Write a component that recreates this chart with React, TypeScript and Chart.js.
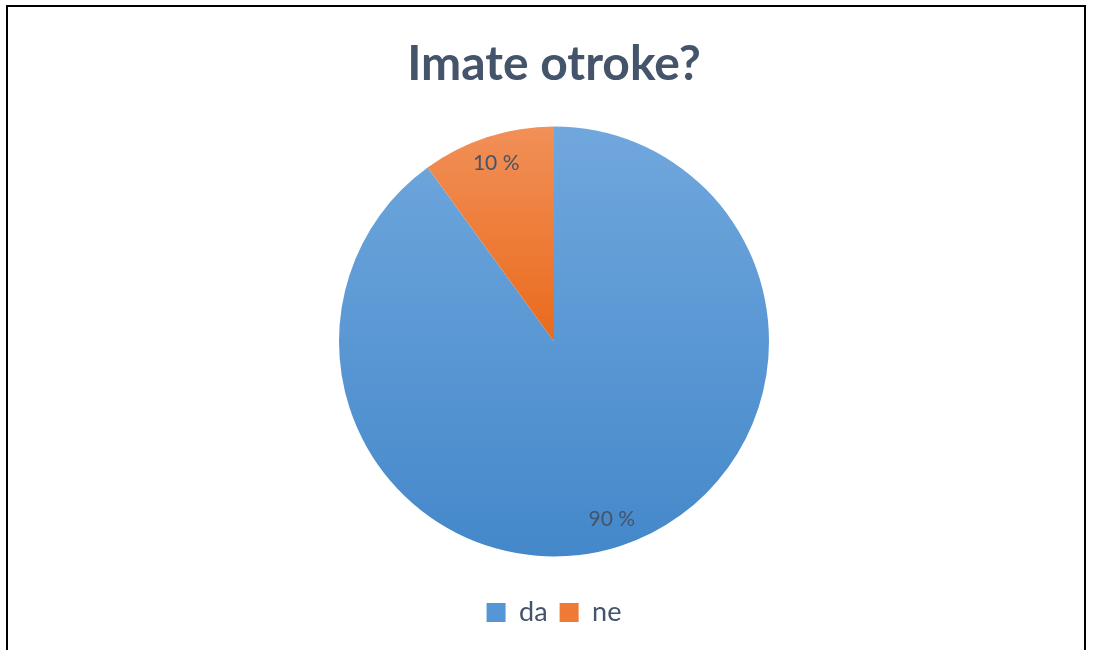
import React, { useEffect, useRef } from "react";
import { Chart, registerables } from "chart.js";

Chart.register(...registerables);

const titleText = "Imate otroke?";
const categories = ["da", "ne"];
const values = [90, 10];
const percentLabels = ["90 %", "10 %"];
const gradientTop = ["#70A7DD", "#F19058"];
const gradientBottom = ["#4488CA", "#EA6A1C"];
const legendColors = ["#5596D6", "#EE7A36"];
const textColor = "#44546A";
const PIE_RADIUS = 215;

const labelPlugin = {
  id: "sliceLabels",
  afterDatasetsDraw(chart: any) {
    const ctx = chart.ctx;
    const meta = chart.getDatasetMeta(0);
    ctx.save();
    ctx.font = "21px Lato";
    ctx.fillStyle = textColor;
    ctx.textAlign = "center";
    ctx.textBaseline = "middle";
    meta.data.forEach((arc: any, i: number) => {
      const p = arc.getProps(["x", "y", "startAngle", "endAngle", "outerRadius"], true);
      const mid = (p.startAngle + p.endAngle) / 2;
      const d = p.outerRadius * 0.87;
      ctx.fillText(percentLabels[i], p.x + Math.cos(mid) * d, p.y + Math.sin(mid) * d);
    });
    ctx.restore();
  },
};

export default function App() {
  const canvasRef = useRef<HTMLCanvasElement | null>(null);

  useEffect(() => {
    if (!canvasRef.current) return;
    const chart = new Chart(canvasRef.current, {
      type: "pie",
      data: {
        labels: categories,
        datasets: [
          {
            data: values,
            radius: PIE_RADIUS,
            borderWidth: 0,
            backgroundColor: (c: any) => {
              const area = c.chart.chartArea;
              const i = c.dataIndex ?? 0;
              if (!area) return legendColors[i];
              const cy = (area.top + area.bottom) / 2;
              const top = cy - PIE_RADIUS;
              const bottom = i === 0 ? cy + PIE_RADIUS : cy;
              const g = c.chart.ctx.createLinearGradient(0, top, 0, bottom);
              g.addColorStop(0, gradientTop[i]);
              g.addColorStop(1, gradientBottom[i]);
              return g;
            },
          },
        ],
      },
      options: {
        responsive: true,
        maintainAspectRatio: false,
        animation: false,
        layout: { padding: { left: 14, right: 0, top: 0, bottom: 14 } },
        plugins: {
          tooltip: { enabled: false },
          title: {
            display: true,
            text: titleText,
            color: textColor,
            font: { family: "Lato", size: 48, weight: "bold", lineHeight: 1.1 },
            padding: { top: 38, bottom: 5 },
          },
          legend: {
            display: true,
            position: "bottom",
            labels: {
              color: textColor,
              font: { family: "Lato", size: 27 },
              boxWidth: 19,
              boxHeight: 19,
              padding: 12,
              generateLabels: () =>
                categories.map((cat, i) => ({
                  text: cat,
                  fillStyle: legendColors[i],
                  strokeStyle: legendColors[i],
                  lineWidth: 0,
                  hidden: false,
                  index: i,
                  fontColor: textColor,
                })),
            },
          },
        },
      },
      plugins: [labelPlugin],
    } as any);
    return () => chart.destroy();
  }, []);

  return (
    <>
      <div
        style={{
          position: "fixed",
          left: 6,
          top: 5,
          width: 1080,
          height: 700,
          border: "2px solid #000",
          boxSizing: "border-box",
          background: "#fff",
        }}
      />
      <div style={{ position: "fixed", left: 0, top: 0, width: 1094, height: 650 }}>
        <canvas ref={canvasRef} />
      </div>
    </>
  );
}
